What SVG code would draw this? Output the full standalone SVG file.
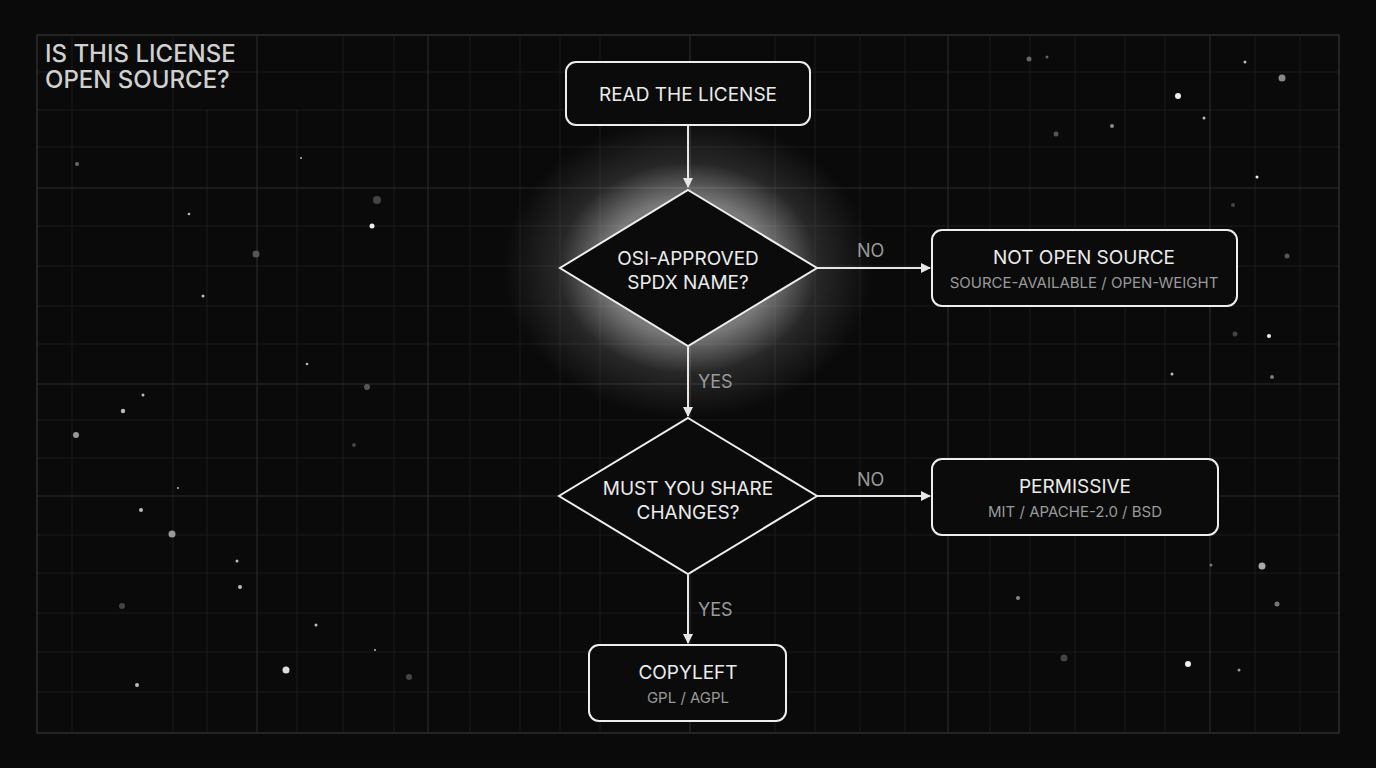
<svg xmlns="http://www.w3.org/2000/svg" width="1376" height="768" viewBox="0 0 1376 768">
<defs>
<style>
.t{font-family:Inter,"Liberation Sans",sans-serif;fill:#ececec;text-anchor:middle}
.s{font-family:Inter,"Liberation Sans",sans-serif;fill:#9a9a9a;text-anchor:middle;font-size:15px}
.n{fill:#0b0b0b;stroke:#eeeeee;stroke-width:2}
.c{stroke:#e6e6e6;stroke-width:2;fill:none;marker-end:url(#a)}
.g{stroke:#1a1a1a;stroke-width:1}
.G{stroke:#2a2a2a;stroke-width:1.2}
.lb{font-family:Inter,"Liberation Sans",sans-serif;fill:#9a9a9a;font-size:18px}
</style>
<marker id="a" markerWidth="10" markerHeight="10" refX="9" refY="5" orient="auto" markerUnits="userSpaceOnUse"><path d="M0,0 L10,5 L0,10 z" fill="#e6e6e6"/></marker>
<radialGradient id="glow"><stop offset="0.45" stop-color="#fff" stop-opacity="0.45"/><stop offset="0.7" stop-color="#fff" stop-opacity="0.12"/><stop offset="1" stop-color="#fff" stop-opacity="0"/></radialGradient>
</defs>
<rect width="1376" height="768" fill="#0a0a0a"/>
<g id="grid">
<path class="g" d="M72 35V733M173 35V733M207 110V733M297 110V733M343 35V733M394 35V733M470 35V733M520 35V733M560 35V733M600 35V733M775 35V733M815 35V733M860 35V733M905 35V733M990 35V733M1030 35V733M1075 35V733M1125 35V733M1165 35V733M1255 35V733M1300 35V733"/>
<path class="g" d="M37 72H1339M37 110H1339M37 147H1339M37 226H1339M37 266H1339M37 306H1339M37 344H1339M37 420H1339M37 458H1339M37 535H1339M37 573H1339M37 613H1339M37 652H1339M37 692H1339"/>
<path class="G" d="M257 35V733M428 35V733M690 35V733M948 35V733M1210 35V733M37 188H1339M37 384H1339M37 496H1339"/>
<rect x="37" y="35" width="1302" height="698" fill="none" stroke="#333" stroke-width="1.3"/>
</g>
<g id="stars" fill="#bbb">
<circle cx="77" cy="164" r="2" fill="#666"/><circle cx="189" cy="214" r="1.3"/><circle cx="301" cy="158" r="1"/><circle cx="377" cy="200" r="4" fill="#444"/><circle cx="372" cy="226" r="2.5" fill="#eee"/><circle cx="256" cy="254" r="3.5" fill="#555"/><circle cx="203" cy="296" r="1.5"/><circle cx="307" cy="364" r="1.3"/><circle cx="367" cy="387" r="3" fill="#555"/><circle cx="143" cy="395" r="1.5"/><circle cx="123" cy="411" r="2.2"/><circle cx="76" cy="435" r="3" fill="#999"/><circle cx="354" cy="445" r="2" fill="#444"/><circle cx="178" cy="488" r="1"/><circle cx="141" cy="510" r="2"/><circle cx="172" cy="534" r="3.5" fill="#999"/><circle cx="237" cy="561" r="1.5"/><circle cx="240" cy="587" r="2"/><circle cx="122" cy="606" r="3" fill="#444"/><circle cx="316" cy="625" r="1.5"/><circle cx="375" cy="650" r="1"/><circle cx="286" cy="670" r="3.5" fill="#ddd"/><circle cx="409" cy="677" r="3" fill="#444"/><circle cx="137" cy="685" r="2"/>
<circle cx="1029" cy="59" r="2.5" fill="#666"/><circle cx="1047" cy="57" r="1.5" fill="#666"/><circle cx="1245" cy="62" r="1.5"/><circle cx="1282" cy="78" r="3.5" fill="#888"/><circle cx="1178" cy="96" r="3" fill="#eee"/><circle cx="1204" cy="118" r="1.5"/><circle cx="1112" cy="126" r="2" fill="#888"/><circle cx="1056" cy="134" r="2.5" fill="#555"/><circle cx="1257" cy="177" r="1.5" fill="#eee"/><circle cx="1233" cy="205" r="2" fill="#444"/><circle cx="1287" cy="256" r="2.5" fill="#555"/><circle cx="1235" cy="334" r="2.5" fill="#444"/><circle cx="1269" cy="336" r="2" fill="#eee"/><circle cx="1172" cy="374" r="1.5"/><circle cx="1272" cy="377" r="2" fill="#777"/><circle cx="1211" cy="565" r="1.5" fill="#777"/><circle cx="1262" cy="566" r="3.5" fill="#aaa"/><circle cx="1018" cy="598" r="2" fill="#888"/><circle cx="1277" cy="604" r="2.5" fill="#777"/><circle cx="1064" cy="658" r="3.5" fill="#444"/><circle cx="1188" cy="664" r="3" fill="#eee"/><circle cx="1239" cy="670" r="1.5" fill="#999"/>
</g>
<text x="45" y="62" font-family="Inter,'Liberation Sans',sans-serif" font-size="24" font-weight="500" fill="#d0d0d0">IS THIS LICENSE</text>
<text x="45" y="88" font-family="Inter,'Liberation Sans',sans-serif" font-size="24" font-weight="500" fill="#d0d0d0">OPEN SOURCE?</text>
<ellipse cx="688" cy="268" rx="185" ry="150" fill="url(#glow)"/>
<g id="connectors">
<path class="c" d="M688 126V187"/>
<path class="c" d="M817 268H930"/>
<path class="c" d="M688 347V416"/>
<path class="c" d="M817 496H930"/>
<path class="c" d="M688 575V643"/>
<text class="lb" x="857" y="257">NO</text>
<text class="lb" x="857" y="486">NO</text>
<text class="lb" x="698" y="388">YES</text>
<text class="lb" x="698" y="616">YES</text>
</g>
<g id="read"><rect class="n" x="566" y="62" width="244" height="63" rx="10"/><text class="t" x="688" y="101" font-size="19">READ THE LICENSE</text></g>
<g id="osi"><polygon class="n" points="688,190 817,268 688,346 560,268"/><text class="t" x="688" y="265" font-size="19">OSI-APPROVED</text><text class="t" x="688" y="289" font-size="19">SPDX NAME?</text></g>
<g id="notos"><rect class="n" x="932" y="230" width="305" height="76" rx="10"/><text class="t" x="1084" y="264" font-size="19">NOT OPEN SOURCE</text><text class="s" x="1084" y="288">SOURCE-AVAILABLE / OPEN-WEIGHT</text></g>
<g id="share"><polygon class="n" points="688,418 817,496 688,574 559,496"/><text class="t" x="688" y="495" font-size="19">MUST YOU SHARE</text><text class="t" x="688" y="519" font-size="19">CHANGES?</text></g>
<g id="perm"><rect class="n" x="932" y="459" width="286" height="76" rx="10"/><text class="t" x="1075" y="493" font-size="19">PERMISSIVE</text><text class="s" x="1075" y="517">MIT / APACHE-2.0 / BSD</text></g>
<g id="copyleft"><rect class="n" x="589" y="645" width="197" height="76" rx="10"/><text class="t" x="688" y="679" font-size="19">COPYLEFT</text><text class="s" x="688" y="703">GPL / AGPL</text></g>
</svg>
